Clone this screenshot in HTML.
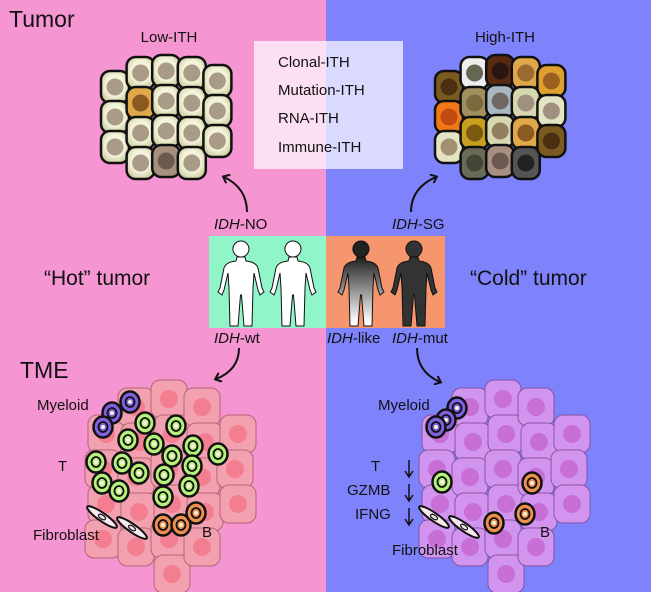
<!DOCTYPE html>
<html><head><meta charset="utf-8"><style>
body{margin:0;width:651px;height:592px;overflow:hidden}
svg{display:block}
text{font-family:"Liberation Sans",Arial,sans-serif;fill:#111}
</style></head><body>
<svg id="s" width="651" height="592" viewBox="0 0 651 592" xmlns="http://www.w3.org/2000/svg">
<defs>
<radialGradient id="cg" cx="50%" cy="45%" r="60%"><stop offset="0.55" stop-color="#f4f4dc"/><stop offset="1" stop-color="#c8c898"/></radialGradient>
<linearGradient id="hg" x1="0" y1="0" x2="0" y2="1"><stop offset="0.2" stop-color="#222"/><stop offset="0.95" stop-color="#fff"/></linearGradient>
<marker id="ah" markerWidth="10" markerHeight="10" refX="5" refY="5" orient="auto" markerUnits="userSpaceOnUse"><path d="M0,0 L6,5 L0,10" fill="none" stroke="#111" stroke-width="2"/></marker>
<path id="hum" d="M21,17 L29,17 L30,21 Q40,22 42,28 L46,48 L48,52 L44,55 L42,50 L38,33 L37,48 L36,86 L28,86 L25.5,55 L24.5,55 L22,86 L14,86 L13,48 L12,33 L8,50 L6,55 L2,52 L4,48 L8,28 Q10,22 20,21 Z M25,1 A8,8 0 1 1 24.9,1 Z"/>
</defs>
<rect x="0" y="0" width="326" height="592" fill="#f595d2"/>
<rect x="326" y="0" width="325" height="592" fill="#7f83fb"/>
<g id="cells"></g>
<rect x="254" y="41" width="149" height="128" fill="#fff" opacity="0.7"/>
<text x="278" y="67" font-size="15">Clonal-ITH</text>
<text x="278" y="95" font-size="15">Mutation-ITH</text>
<text x="278" y="123" font-size="15">RNA-ITH</text>
<text x="278" y="152" font-size="15">Immune-ITH</text>
<text x="9" y="27" font-size="23">Tumor</text>
<text x="169" y="42" font-size="15" text-anchor="middle">Low-ITH</text>
<text x="505" y="42" font-size="15" text-anchor="middle">High-ITH</text>
<text x="20" y="378" font-size="23">TME</text>
<text x="44" y="285" font-size="21">“Hot” tumor</text>
<text x="470" y="285" font-size="21">“Cold” tumor</text>
<rect x="209" y="236" width="117" height="92" fill="#90f5c8"/>
<rect x="326" y="236" width="119" height="92" fill="#f5966f"/>
<use href="#hum" x="216" y="240" fill="#fff" stroke="#111" stroke-width="1"/>
<use href="#hum" x="268" y="240" fill="#fff" stroke="#111" stroke-width="1"/>
<use href="#hum" x="336" y="240" fill="url(#hg)" stroke="#111" stroke-width="1"/>
<use href="#hum" x="389" y="240" fill="#333" stroke="#111" stroke-width="1"/>
<g font-size="15">
<text x="214" y="229"><tspan font-style="italic">IDH</tspan>-NO</text>
<text x="392" y="229"><tspan font-style="italic">IDH</tspan>-SG</text>
<text x="214" y="343"><tspan font-style="italic">IDH</tspan>-wt</text>
<text x="327" y="343"><tspan font-style="italic">IDH</tspan>-like</text>
<text x="392" y="343"><tspan font-style="italic">IDH</tspan>-mut</text>
</g>
<g fill="none" stroke="#111" stroke-width="2" marker-end="url(#ah)">
<path d="M247,212 Q247,188 224,177"/>
<path d="M411,212 Q411,188 436,177"/>
<path d="M239,348 Q239,370 216,379"/>
<path d="M417,348 Q417,372 440,382"/>
</g>
<g font-size="15">
<text x="37" y="410">Myeloid</text>
<text x="58" y="471">T</text>
<text x="33" y="540">Fibroblast</text>
<text x="202" y="537">B</text>
<text x="378" y="410">Myeloid</text>
<text x="371" y="471">T</text>
<text x="347" y="495">GZMB</text>
<text x="355" y="519">IFNG</text>
<text x="392" y="555">Fibroblast</text>
<text x="540" y="537">B</text>
</g>
<g stroke="#111" stroke-width="1.5" fill="none">
<path d="M409,460 V476 M405,471 L409,477 L413,471"/>
<path d="M409,484 V500 M405,495 L409,501 L413,495"/>
<path d="M409,508 V524 M405,519 L409,525 L413,519"/>
</g>
<g id="imm"></g>
</svg>
<script>
var NS="http://www.w3.org/2000/svg";
var C=document.getElementById("cells"),I=document.getElementById("imm");
function el(p,t,a){var e=document.createElementNS(NS,t);for(var k in a)e.setAttribute(k,a[k]);p.appendChild(e);return e;}
function tumor(x0,cols,colors){
 var k=0;
 cols.forEach(function(c,i){for(var r=0;r<c[1];r++){var col=colors?colors[k%colors.length]:null;k++;
  var x=x0+i*25.6-1,y=c[0]+r*30-1;
  el(C,"rect",{x:x,y:y,width:28,height:32,rx:9,fill:col?col[0]:"url(#cg)",stroke:"#111","stroke-width":2.5});
  el(C,"circle",{cx:x+14,cy:y+16,r:8.5,fill:col?col[1]:"#a99b88"});}});
}
var lc=[[72,3],[58,4],[56,4],[58,4],[66,3]];
tumor(102,lc,[null,null,null,null,["#e0a848","#8a5a20"],null,null,null,null,null,["#a89080","#6a5a50"],null,null,null,null,null,null,null]);
tumor(436,lc,[["#7a5a20","#4a3010"],["#f07818","#c04a10"],["#e4e4c4","#a09070"],["#eee","#665"],["#a09060","#7a6a40"],["#c8a020","#7a5a10"],["#6a6a58","#454535"],["#5a2a10","#2a1510"],["#a8b8c0","#706860"],["#d8d8b0","#908060"],["#a89080","#6a5a50"],["#e0a848","#9a6a30"],["#d8d8b0","#a09080"],["#e0a848","#8a5a20"],["#555","#222"],["#e0a030","#9a6020"],["#e4e4c4","#a09080"]]);
function tme(x0,y0,fill,nuc,st){
 for(var c=0;c<5;c++)for(var r=0;r<6;r++){
  var x=x0+c*33+(r%2?3:0),y=y0+r*35+(c%2?8:0);
  if(y>555)continue;
  if((c==0&&(r==0||r==5))||(c==4&&(r==0||r>=4)))continue;
  el(C,"rect",{x:x,y:y,width:36,height:38,rx:9,fill:fill,stroke:st,"stroke-width":1,opacity:0.92});
  el(C,"circle",{cx:x+18,cy:y+19,r:9,fill:nuc});}
}
tme(85,380,"#f3a3ae","#f37e8f","#b06070");
tme(419,380,"#d996ee","#c86fd6","#8050a0");
function imm(x,y,f){el(I,"ellipse",{cx:x,cy:y,rx:9.5,ry:10.5,fill:f,stroke:"#111","stroke-width":2.5});el(I,"ellipse",{cx:x,cy:y,rx:4.5,ry:5,fill:"none",stroke:"#111","stroke-width":1.8});el(I,"circle",{cx:x,cy:y,r:2,fill:"#f4f4e0"});}
var G="#b8f07c",P="#8060e0",O="#f0904e";
[[145,423],[176,426],[128,440],[154,444],[193,446],[218,454],[172,456],[96,462],[122,463],[192,466],[139,473],[164,475],[102,483],[119,491],[189,486],[163,497],[442,482]].forEach(function(p){imm(p[0],p[1],G)});
[[130,402],[112,413],[103,427],[457,408],[446,420],[436,427]].forEach(function(p){imm(p[0],p[1],P)});
[[163,525],[181,525],[196,513],[532,483],[525,514],[494,523]].forEach(function(p){imm(p[0],p[1],O)});
[[102,517],[132,528],[434,517],[464,527]].forEach(function(p){var g=el(I,"g",{transform:"translate("+p[0]+","+p[1]+") rotate(35)"});
 el(g,"ellipse",{cx:0,cy:0,rx:18,ry:4,fill:"#f8e8f0",stroke:"#111","stroke-width":2});el(g,"ellipse",{cx:0,cy:0,rx:4,ry:2,fill:"none",stroke:"#111","stroke-width":1.2});});
</script>
</body></html>
